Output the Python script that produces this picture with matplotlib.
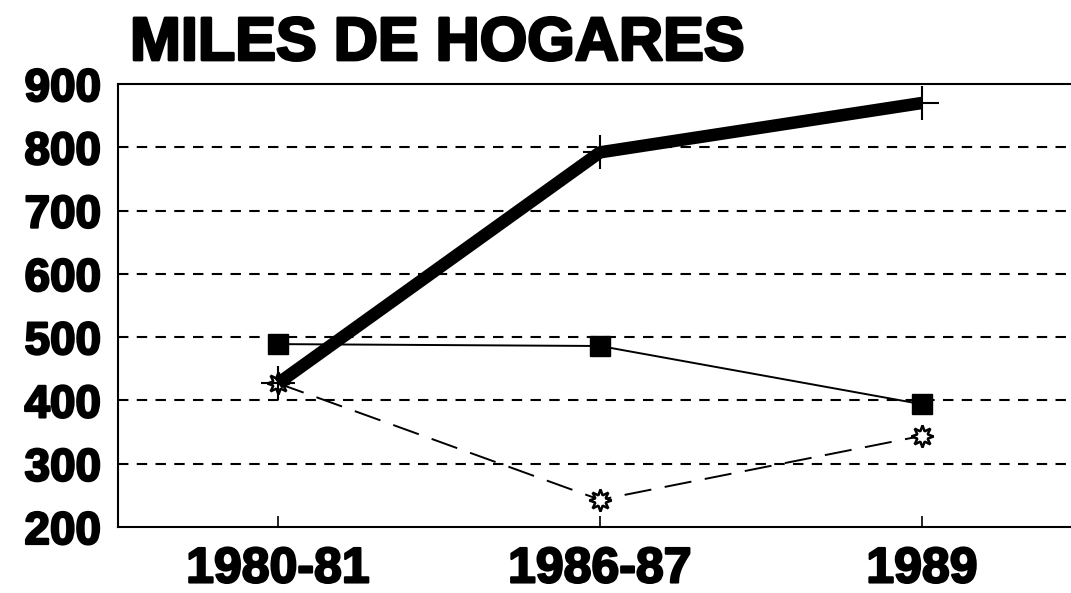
import matplotlib
matplotlib.use("Agg")
import matplotlib.pyplot as plt
import matplotlib.patheffects as pe

categories = ["1980-81", "1986-87", "1989"]
serie_gruesa = [427, 792, 870]
serie_cuadros = [489, 486, 394]
serie_estrellas = [427, 243, 344]
yticks = [200, 300, 400, 500, 600, 700, 800, 900]
title = "MILES DE HOGARES"

plt.rcParams['font.family'] = ['Liberation Sans', 'DejaVu Sans']
heavy = [pe.withStroke(linewidth=1.6, foreground='black')]

fig = plt.figure(figsize=(10.71, 5.93), dpi=100)
ax = fig.add_axes([118/1071, 1-527/593, 1-118/1071, (527-84)/593])
x = list(range(len(categories)))

ax.plot(x, serie_estrellas, color='black', lw=1.4, dashes=(14, 7),
        marker=(8, 1, 0), markersize=16, markerfacecolor='white',
        markeredgecolor='black', markeredgewidth=1.8, zorder=3)
ax.plot(x, serie_cuadros, color='black', lw=1.4, marker='s', markersize=15,
        markerfacecolor='black', zorder=4)
ax.plot(x, serie_gruesa, color='black', lw=9, solid_capstyle='butt',
        marker='+', markersize=24, markeredgewidth=1.5, zorder=5)

ax.set_xlim(-0.497, 2.463)
ax.set_ylim(200, 900)
ax.set_yticks(yticks)
ax.set_yticklabels([str(v) for v in yticks], fontsize=33, fontweight='bold')
ax.set_xticks(x)
ax.set_xticklabels(categories, fontsize=36, fontweight='bold')
ax.tick_params(axis='y', length=0, pad=12)
ax.tick_params(axis='x', direction='in', length=8, width=1.2, pad=14)
for lbl in ax.get_xticklabels() + ax.get_yticklabels():
    lbl.set_path_effects(heavy)

for v in yticks[1:-1]:
    ax.axhline(v, color='black', lw=1.5, dashes=(5, 4), zorder=1)

for s in ['left', 'bottom', 'top']:
    ax.spines[s].set_linewidth(1.5)
ax.spines['right'].set_visible(False)

t = fig.text(130/1071, 1-60/593, title, fontsize=44, fontweight='bold',
             ha='left', va='baseline')
t.set_path_effects([pe.withStroke(linewidth=2, foreground='black')])

fig.savefig("out.png", dpi=100)
